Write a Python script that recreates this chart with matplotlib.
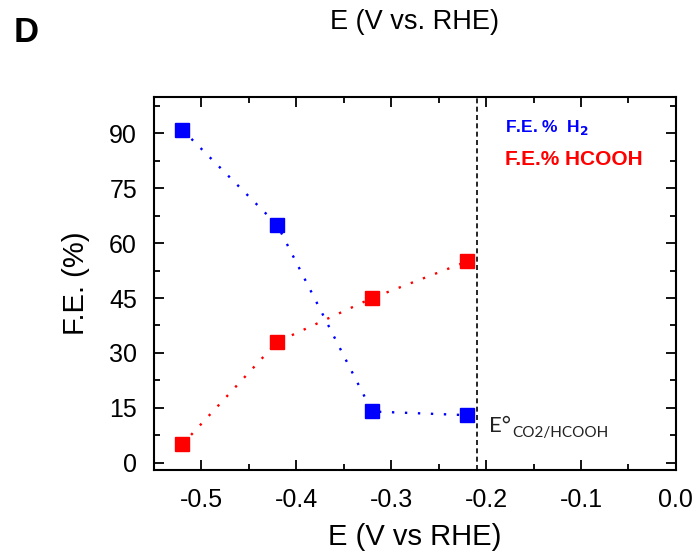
import matplotlib.pyplot as plt
from matplotlib.ticker import MultipleLocator

plt.rcParams['font.family'] = ['Liberation Sans', 'DejaVu Sans']

potential = [-0.52, -0.42, -0.32, -0.22]
fe_h2 = [91, 65, 14, 13]
fe_hcooh = [5, 33, 45, 55]
e_eq = -0.21

fig = plt.figure(figsize=(6.99, 5.53), dpi=100)
ax = fig.add_axes([0.220, 0.150, 0.747, 0.675])

dots = (0, (1, 4.5))
ax.plot(potential, fe_h2, color='#0000ff', linestyle=dots, linewidth=1.7,
        marker='s', markersize=10)
ax.plot(potential, fe_hcooh, color='#ff0000', linestyle=dots, linewidth=1.7,
        marker='s', markersize=10)
ax.axvline(e_eq, color='black', linestyle='--', linewidth=1.2, dashes=(3, 2))

ax.set_xlim(-0.55, 0.0)
ax.set_ylim(-2, 100)
ax.xaxis.set_minor_locator(MultipleLocator(0.05))
ax.yaxis.set_major_locator(MultipleLocator(15))
ax.yaxis.set_minor_locator(MultipleLocator(7.5))
ax.set_xticks([-0.5, -0.4, -0.3, -0.2, -0.1, 0.0])
ax.set_xticklabels(['-0.5', '-0.4', '-0.3', '-0.2', '-0.1', '0.0'])

ax.tick_params(which='both', direction='in', top=True, right=True,
               width=1.3, labelsize=18)
ax.tick_params(axis='x', pad=13)
ax.tick_params(axis='y', pad=12)
ax.tick_params(which='major', length=7)
ax.tick_params(which='minor', length=4)
for s in ax.spines.values():
    s.set_linewidth(1.5)

ax.set_xlabel('E (V vs RHE)', fontsize=21, labelpad=8)
ax.set_ylabel('F.E. (%)', fontsize=21, labelpad=14)

ax.text(0.672, 0.917, r'F.E. %  H$_\mathbf{2}$', transform=ax.transAxes,
        color='#0000ff', fontsize=12.5, fontweight='bold', va='center')
ax.text(0.672, 0.832, 'F.E.% HCOOH', transform=ax.transAxes,
        color='#ff0000', fontsize=15, fontweight='bold', va='center')

ax.text(-0.1965, 8.5, 'E°', fontsize=16, color='#222222', family='Lato',
        va='baseline')
ax.text(-0.172, 7.0, 'CO2/HCOOH', fontsize=11, color='#222222',
        family='Lato', va='baseline')

fig.text(0.019, 0.942, 'D', fontsize=25, fontweight='bold', va='center')
fig.text(0.593, 0.96, 'E (V vs. RHE)', fontsize=19.5, ha='center',
         va='center')

fig.savefig('out.png', dpi=100)
